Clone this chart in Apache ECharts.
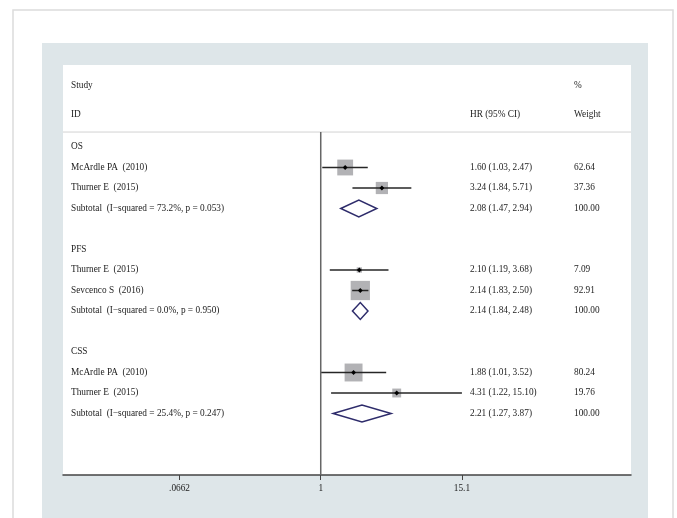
<!DOCTYPE html>
<html><head><meta charset="utf-8">
<script src="https://cdn.jsdelivr.net/npm/echarts@6/dist/echarts.min.js"></script>
<style>html,body{margin:0;padding:0;background:#fff}#c{width:677px;height:518px}</style>
</head><body><div id="c"></div>
<script>
// ---- data ----
const groupNames = ['OS', 'PFS', 'CSS'];
const studyNames = ['McArdle PA  (2010)', 'Thurner E  (2015)', 'Thurner E  (2015)', 'Sevcenco S  (2016)', 'McArdle PA  (2010)', 'Thurner E  (2015)'];
const studyGroup = [0, 0, 1, 1, 2, 2];
const studyHR = [1.60, 3.24, 2.10, 2.14, 1.88, 4.31];
const studyLower = [1.03, 1.84, 1.19, 1.83, 1.01, 1.22];
const studyUpper = [2.47, 5.71, 3.68, 2.50, 3.52, 15.10];
const studyWeight = [62.64, 37.36, 7.09, 92.91, 80.24, 19.76];
const subtotalLabels = ['Subtotal  (I\u2212squared = 73.2%, p = 0.053)', 'Subtotal  (I\u2212squared = 0.0%, p = 0.950)', 'Subtotal  (I\u2212squared = 25.4%, p = 0.247)'];
const subHR = [2.08, 2.14, 2.21];
const subLower = [1.47, 1.84, 1.27];
const subUpper = [2.94, 2.48, 3.87];
const subWeight = [100.00, 100.00, 100.00];
const tickValues = [0.0662, 1, 15.1];
const tickLabels = ['.0662', '1', '15.1'];

// ---- row layout ----
const FONT = '"Liberation Serif","Times New Roman",serif';
const FS = 9.3;
const TXT = '#1c1c1c';
const colStudy = 71, colHR = 470, colW = 574;
const fmtCI = (e, l, u) => e.toFixed(2) + ' (' + l.toFixed(2) + ', ' + u.toFixed(2) + ')';

const tableRows = [];
const studyData = [];
const subData = [];
let r = 0;
groupNames.forEach((g, gi) => {
  tableRows.push({ row: r, label: g, hr: '', w: '' });
  r++;
  studyNames.forEach((n, i) => {
    if (studyGroup[i] !== gi) return;
    tableRows.push({ row: r, label: n, hr: fmtCI(studyHR[i], studyLower[i], studyUpper[i]), w: studyWeight[i].toFixed(2) });
    studyData.push([studyHR[i], r, studyLower[i], studyUpper[i], studyWeight[i]]);
    r++;
  });
  tableRows.push({ row: r, label: subtotalLabels[gi], hr: fmtCI(subHR[gi], subLower[gi], subUpper[gi]), w: subWeight[gi].toFixed(2) });
  subData.push([subHR[gi], r, subLower[gi], subUpper[gi]]);
  r += 2;
});
const headerRows = [
  { row: -3, label: 'Study', hr: '', w: '%' },
  { row: -1.6, label: 'ID', hr: 'HR (95% CI)', w: 'Weight' }
];
const allText = headerRows.concat(tableRows);

function txt(x, y, s) {
  return { type: 'text', x: x, y: y, silent: true,
    style: { text: s, fill: TXT, fontSize: FS, fontFamily: FONT, align: 'left', verticalAlign: 'middle' } };
}

const chart = echarts.init(document.getElementById('c'), null, { renderer: 'canvas' });
chart.setOption({
  animation: false,
  backgroundColor: '#ffffff',
  graphic: [
    { type: 'rect', z: -3, shape: { x: 13, y: 10, width: 660, height: 530 }, style: { fill: '#ffffff', stroke: '#dcdcdc', lineWidth: 1.5 } },
    { type: 'rect', z: -2, shape: { x: 42, y: 43, width: 606, height: 500 }, style: { fill: '#dee6e9' } },
    { type: 'rect', z: -1, shape: { x: 63, y: 65, width: 568, height: 410 }, style: { fill: '#ffffff' } }
  ],
  grid: { left: 63, top: 65, width: 568, height: 410, containLabel: false },
  xAxis: {
    type: 'log', logBase: Math.E, min: 0.00704, max: 390,
    axisLine: { show: true, onZero: false, lineStyle: { color: '#444', width: 1.5 } },
    axisTick: { show: true, length: 5, customValues: tickValues, lineStyle: { color: '#444', width: 1 } },
    axisLabel: { show: true, customValues: tickValues, margin: 9, fontSize: FS, fontFamily: FONT, color: TXT,
      formatter: v => { const k = tickValues.findIndex(t => Math.abs(t - v) < 1e-6); return k >= 0 ? tickLabels[k] : ''; } },
    splitLine: { show: false }, minorTick: { show: false }, minorSplitLine: { show: false }
  },
  yAxis: { type: 'value', min: -4, max: 16, inverse: true, show: false },
  series: [
    { type: 'custom', name: 'frame', data: [[1, -0.73]], clip: false, z: 1,
      renderItem: (params, api) => {
        const cs = params.coordSys;
        const p = api.coord([api.value(0), api.value(1)]);
        return { type: 'group', children: [
          { type: 'line', shape: { x1: cs.x, y1: p[1], x2: cs.x + cs.width, y2: p[1] }, style: { stroke: '#d2d2d2', lineWidth: 1 } },
          { type: 'line', shape: { x1: p[0], y1: p[1], x2: p[0], y2: cs.y + cs.height }, style: { stroke: '#666', lineWidth: 1.5 } }
        ] };
      } },
    { type: 'custom', name: 'studies', data: studyData, clip: false, z: 3,
      renderItem: (params, api) => {
        const row = api.value(1);
        const pe = api.coord([api.value(0), row]);
        const pl = api.coord([api.value(2), row]);
        const ph = api.coord([api.value(3), row]);
        const s = 2.0 * Math.sqrt(api.value(4));
        const d = 2.4;
        return { type: 'group', children: [
          { type: 'rect', shape: { x: pe[0] - s / 2, y: pe[1] - s / 2, width: s, height: s }, style: { fill: '#b2b2b5' } },
          { type: 'line', shape: { x1: pl[0], y1: pl[1], x2: ph[0], y2: ph[1] }, style: { stroke: '#262626', lineWidth: 1.5 } },
          { type: 'polygon', shape: { points: [[pe[0] - d, pe[1]], [pe[0], pe[1] - d], [pe[0] + d, pe[1]], [pe[0], pe[1] + d]] }, style: { fill: '#000' } }
        ] };
      } },
    { type: 'custom', name: 'subtotals', data: subData, clip: false, z: 3,
      renderItem: (params, api) => {
        const row = api.value(1);
        const pe = api.coord([api.value(0), row]);
        const pl = api.coord([api.value(2), row]);
        const ph = api.coord([api.value(3), row]);
        const top = api.coord([api.value(0), row - 0.41]);
        const bot = api.coord([api.value(0), row + 0.41]);
        return { type: 'polygon', shape: { points: [[pl[0], pe[1]], [pe[0], top[1]], [ph[0], pe[1]], [pe[0], bot[1]]] },
          style: { fill: '#ffffff', stroke: '#2e2c6b', lineWidth: 1.5 } };
      } },
    { type: 'custom', name: 'table', data: allText.map(t => [1, t.row]), clip: false, z: 4,
      renderItem: (params, api) => {
        const t = allText[params.dataIndex];
        const y = api.coord([1, api.value(1)])[1];
        return { type: 'group', children: [txt(colStudy, y, t.label), txt(colHR, y, t.hr), txt(colW, y, t.w)] };
      } }
  ]
});
</script></body></html>
